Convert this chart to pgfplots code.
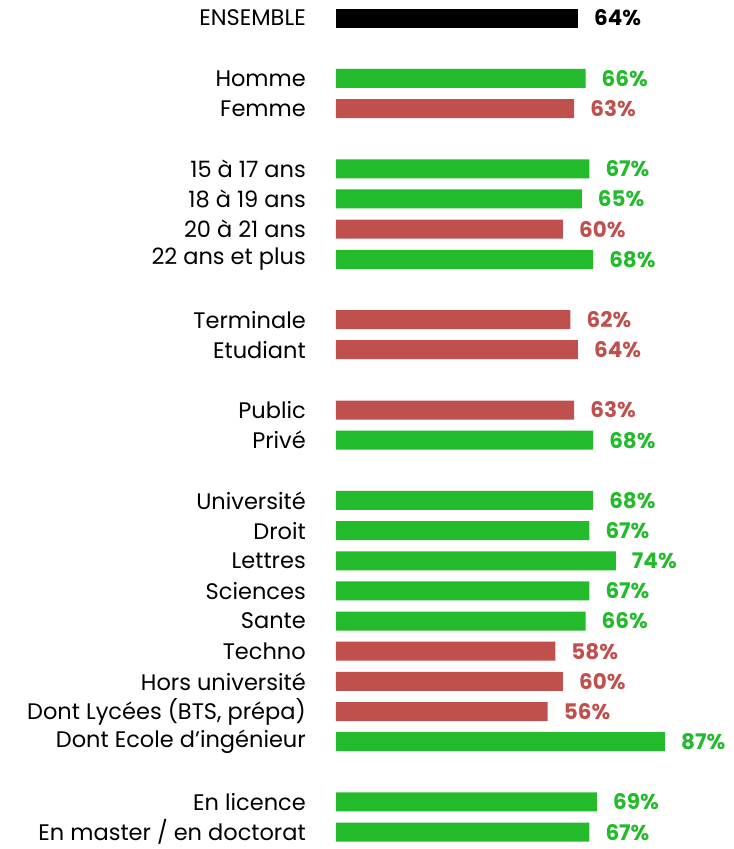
\documentclass[border=0pt]{standalone}
\usepackage{fontspec}
\setmainfont{Poppins}
\usepackage{pgfplots}
\pgfplotsset{compat=1.18}
\definecolor{gr}{RGB}{35,187,43}
\definecolor{rd}{RGB}{192,80,77}
\begin{document}
\begin{tikzpicture}
\begin{axis}[
  scale only axis,
  width=397pt, height=849pt,
  xmin=0, xmax=105,
  ymin=-0.6, ymax=27.56,
  y dir=reverse,
  xbar, bar width=19pt, bar shift=0pt,
  axis line style={draw=none},
  xtick=\empty,
  ytick={0,2,3,5,6,7,8,10,11,13,14,16,17,18,19,20,21,22,23,24,26,27},
  yticklabels={ENSEMBLE,Homme,Femme,15 à 17 ans,18 à 19 ans,20 à 21 ans,22 ans et plus,Terminale,Etudiant,Public,Privé,Université,Droit,Lettres,Sciences,Sante,Techno,Hors université,{Dont Lycées (BTS, prépa)},Dont Ecole d’ingénieur,En licence,En master / en doctorat},
  major tick length=0pt,
  yticklabel style={anchor=east, inner sep=0pt, xshift=-30pt, font=\fontsize{22.5}{26}\selectfont},
  /pgf/number format/assume math mode=true,
  nodes near coords={\pgfmathprintnumber{\pgfplotspointmeta}\%},
  nodes near coords style={anchor=west, inner sep=0pt, xshift=16pt, font=\fontsize{21.5}{24}\selectfont\bfseries},
]
\addplot[fill=black, draw=none, nodes near coords style={text=black}] coordinates {(64,0)};
\addplot[fill=gr, draw=none, nodes near coords style={text=gr}] coordinates {
(66,2) (67,5) (65,6) (68,8) (68,14) (68,16) (67,17) (74,18) (67,19) (66,20) (87,24) (69,26) (67,27)};
\addplot[fill=rd, draw=none, nodes near coords style={text=rd}] coordinates {
(63,3) (60,7) (62,10) (64,11) (63,13) (58,21) (60,22) (56,23)};
\end{axis}
\path ([xshift=-336pt]current axis.south west) rectangle (current axis.north east);
\end{tikzpicture}
\end{document}
